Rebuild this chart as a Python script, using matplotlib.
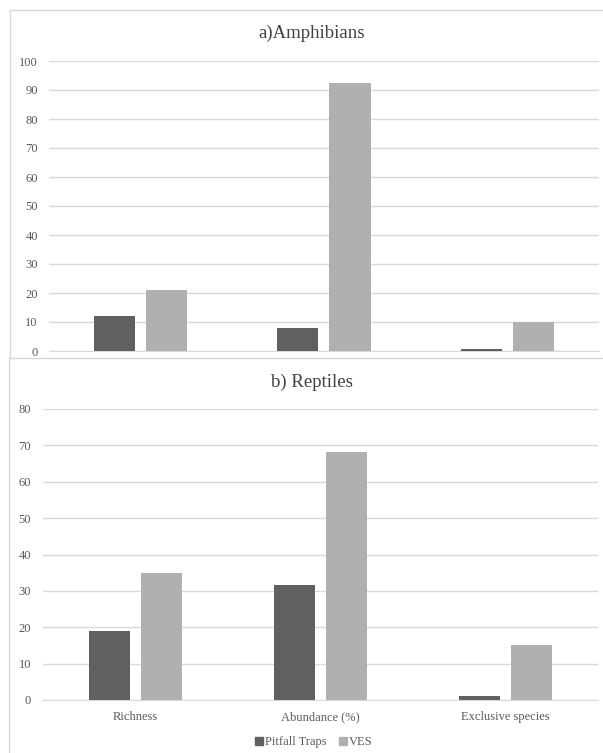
import matplotlib
matplotlib.use("Agg")
import matplotlib.pyplot as plt
from matplotlib.lines import Line2D
from matplotlib.patches import Patch
import numpy as np

plt.rcParams["font.family"] = ["Liberation Serif", "DejaVu Serif"]

# data
categories = ["Richness", "Abundance (%)", "Exclusive species"]
series = ["Pitfall Traps", "VES"]
amph_pitfall = [12.2, 7.8, 0.8]
amph_ves = [21.2, 92.4, 10.0]
rept_pitfall = [19.0, 31.5, 1.0]
rept_ves = [35.0, 68.3, 15.0]

W, H = 603, 753
dark = "#606060"
light = "#b0b0b0"
grid = "#d9d9d9"
txt = "#595959"

fig = plt.figure(figsize=(W / 100, H / 100), dpi=100)
fig.patch.set_facecolor("white")


def px_axes(left, right, top, bottom):
    # pixel box (from top-left) -> figure fraction
    return fig.add_axes([left / W, 1 - bottom / H, (right - left) / W, (bottom - top) / H])


def draw_panel(ax, pit, ves, ymax, show_x, ypad):
    x = np.arange(len(categories))
    w = 0.224
    ax.bar(x - 0.142, pit, w, color=dark, zorder=3)
    ax.bar(x + 0.142, ves, w, color=light, zorder=3)
    ax.set_xlim(-0.5, 2.5)
    ax.set_ylim(0, ymax)
    ax.set_yticks(np.arange(0, ymax + 1, 10))
    ax.yaxis.grid(True, color=grid, linewidth=1, zorder=0)
    for s in ["top", "right", "left"]:
        ax.spines[s].set_visible(False)
    ax.spines["bottom"].set_color(grid)
    ax.tick_params(axis="y", length=0, labelsize=9, labelcolor=txt, pad=ypad)
    ax.tick_params(axis="x", length=0, labelsize=9, labelcolor=txt, pad=8)
    ax.set_xticks(x)
    if show_x:
        ax.set_xticklabels(categories)
    else:
        ax.set_xticklabels([])


ax1 = px_axes(49, 599, 61, 351)
draw_panel(ax1, amph_pitfall, amph_ves, 100, False, 8)

ax2 = px_axes(43, 598, 409, 700)
draw_panel(ax2, rept_pitfall, rept_ves, 80, True, 8.5)

fig.text(312 / W, 1 - 33 / H, "a)Amphibians", ha="center", va="center", fontsize=13.5, color="#404040")
fig.text(312 / W, 1 - 382 / H, "b) Reptiles", ha="center", va="center", fontsize=13.5, color="#404040")

# panel frames
fig.add_artist(Line2D([10 / W, 1], [1 - 10 / H, 1 - 10 / H], color=grid, lw=1))
fig.add_artist(Line2D([10 / W, 10 / W], [1 - 10 / H, 1 - 358 / H], color=grid, lw=1))
fig.add_artist(Line2D([9 / W, 1], [1 - 358 / H, 1 - 358 / H], color=grid, lw=1))
fig.add_artist(Line2D([9 / W, 9 / W], [1 - 358 / H, 0], color=grid, lw=1))

handles = [Patch(color=dark, label=series[0]), Patch(color=light, label=series[1])]
fig.legend(handles=handles, loc="center", bbox_to_anchor=(314 / W, 1 - 742 / H), ncol=2,
           frameon=False, fontsize=9, handlelength=0.6, handleheight=0.6,
           handletextpad=0.2, columnspacing=1.0, labelcolor=txt)

fig.savefig("out.png", dpi=100)
